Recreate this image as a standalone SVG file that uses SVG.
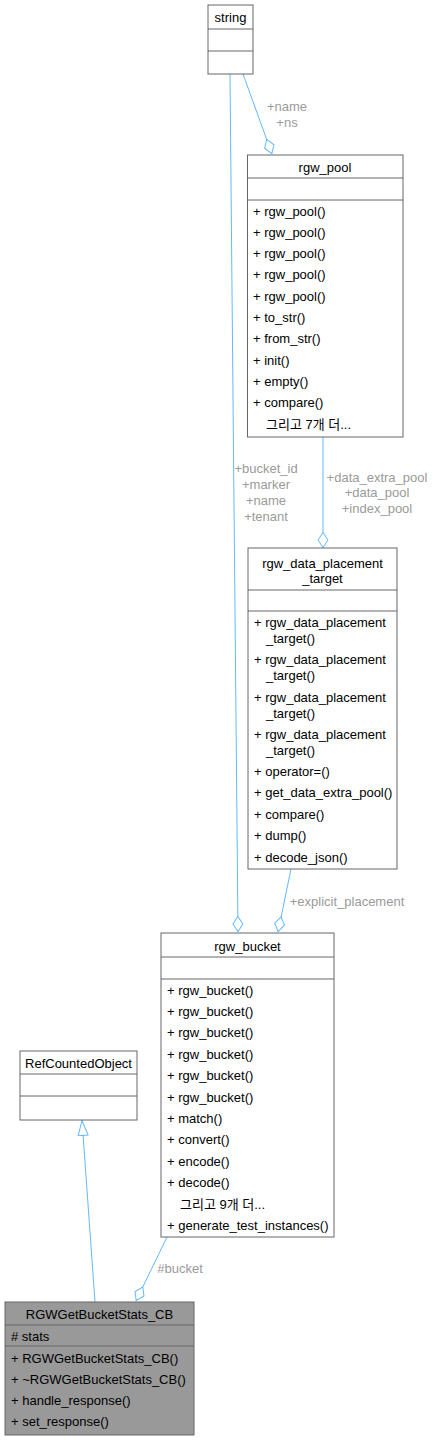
<svg xmlns="http://www.w3.org/2000/svg" width="433" height="1440" viewBox="0 0 433 1440">
<style>
text{font-family:"Liberation Sans","Noto Sans CJK KR",Arial,sans-serif;font-size:13px;fill:#000}
.c{text-anchor:middle}
.lbl{fill:#9a9a9a;text-anchor:middle}
.box{fill:#fff;stroke:#666;stroke-width:1}
.hl{fill:#999;stroke:#666;stroke-width:1}
.div{stroke:#666;stroke-width:1}
.e{fill:none;stroke:#63b8ff;stroke-width:1}
</style>
<defs>
<marker id="dia" viewBox="0 0 16 12" refX="16" refY="6" markerWidth="16" markerHeight="12" markerUnits="userSpaceOnUse" orient="auto">
<path d="M0.5,6 L8,1 L15.5,6 L8,11 Z" fill="#fff" stroke="#63b8ff" stroke-width="1"/>
</marker>
<marker id="tri" viewBox="0 0 16 12" refX="16" refY="6" markerWidth="16" markerHeight="12" markerUnits="userSpaceOnUse" orient="auto">
<path d="M0.5,1 L15.5,6 L0.5,11 Z" fill="#fff" stroke="#63b8ff" stroke-width="1"/>
</marker>
</defs>

<g id="connectors">
<path class="e" d="M243,74 L272,154" marker-end="url(#dia)"/>
<path class="e" d="M230,74 L238,932" marker-end="url(#dia)"/>
<path class="e" d="M323,437 L323,548" marker-end="url(#dia)"/>
<path class="e" d="M291,869 L278,932" marker-end="url(#dia)"/>
<path class="e" d="M167,1237 L136,1301" marker-end="url(#dia)"/>
<path class="e" d="M95,1302 L82,1120" marker-end="url(#tri)"/>
<text class="lbl" x="287" y="111">+name</text>
<text class="lbl" x="287" y="127">+ns</text>
<text class="lbl" x="266" y="473">+bucket_id</text>
<text class="lbl" x="266" y="489">+marker</text>
<text class="lbl" x="266" y="505">+name</text>
<text class="lbl" x="266" y="521">+tenant</text>
<text class="lbl" x="377" y="482">+data_extra_pool</text>
<text class="lbl" x="377" y="497">+data_pool</text>
<text class="lbl" x="377" y="513">+index_pool</text>
<text class="lbl" x="347" y="906">+explicit_placement</text>
<text class="lbl" x="180" y="1273">#bucket</text>
</g>

<g id="node-string">
<rect class="box" x="208" y="5" width="45" height="69"/>
<line class="div" x1="208" y1="29" x2="253" y2="29"/>
<line class="div" x1="208" y1="51" x2="253" y2="51"/>
<text class="c" x="230.5" y="22">string</text>
</g>

<g id="node-rgw_pool">
<rect class="box" x="247.5" y="155" width="155.5" height="282"/>
<line class="div" x1="247.5" y1="178" x2="403" y2="178"/>
<line class="div" x1="247.5" y1="200" x2="403" y2="200"/>
<text class="c" x="325" y="171.5">rgw_pool</text>
<text x="253" y="215.5">+ rgw_pool()</text>
<text x="253" y="236.8">+ rgw_pool()</text>
<text x="253" y="258.1">+ rgw_pool()</text>
<text x="253" y="279.4">+ rgw_pool()</text>
<text x="253" y="300.7">+ rgw_pool()</text>
<text x="253" y="322">+ to_str()</text>
<text x="253" y="343.3">+ from_str()</text>
<text x="253" y="364.6">+ init()</text>
<text x="253" y="385.9">+ empty()</text>
<text x="253" y="407.2">+ compare()</text>
<text x="266" y="428.5">그리고 7개 더...</text>
</g>

<g id="node-rgw_data_placement_target">
<rect class="box" x="248" y="548" width="149" height="321"/>
<line class="div" x1="248" y1="590" x2="397" y2="590"/>
<line class="div" x1="248" y1="611" x2="397" y2="611"/>
<text class="c" x="322.5" y="567.5">rgw_data_placement</text>
<text class="c" x="322.5" y="582.5">_target</text>
<text x="254" y="626.5">+ rgw_data_placement</text>
<text x="266" y="642.5">_target()</text>
<text x="254" y="663.5">+ rgw_data_placement</text>
<text x="266" y="679.5">_target()</text>
<text x="254" y="701.5">+ rgw_data_placement</text>
<text x="266" y="717.5">_target()</text>
<text x="254" y="738.5">+ rgw_data_placement</text>
<text x="266" y="754.5">_target()</text>
<text x="254" y="775.5">+ operator=()</text>
<text x="254" y="796.5">+ get_data_extra_pool()</text>
<text x="254" y="818.5">+ compare()</text>
<text x="254" y="839.5">+ dump()</text>
<text x="254" y="861.5">+ decode_json()</text>
</g>

<g id="node-rgw_bucket">
<rect class="box" x="161" y="933" width="173" height="304"/>
<line class="div" x1="161" y1="957" x2="334" y2="957"/>
<line class="div" x1="161" y1="979" x2="334" y2="979"/>
<text class="c" x="247.5" y="950.5">rgw_bucket</text>
<text x="167" y="994.5">+ rgw_bucket()</text>
<text x="167" y="1015.9">+ rgw_bucket()</text>
<text x="167" y="1037.3">+ rgw_bucket()</text>
<text x="167" y="1058.7">+ rgw_bucket()</text>
<text x="167" y="1080.1">+ rgw_bucket()</text>
<text x="167" y="1101.5">+ rgw_bucket()</text>
<text x="167" y="1122.9">+ match()</text>
<text x="167" y="1144.3">+ convert()</text>
<text x="167" y="1165.7">+ encode()</text>
<text x="167" y="1187.1">+ decode()</text>
<text x="180" y="1208.5">그리고 9개 더...</text>
<text x="167" y="1229.9">+ generate_test_instances()</text>
</g>

<g id="node-RefCountedObject">
<rect class="box" x="20" y="1051" width="117" height="69"/>
<line class="div" x1="20" y1="1074" x2="137" y2="1074"/>
<line class="div" x1="20" y1="1096" x2="137" y2="1096"/>
<text class="c" x="78.5" y="1068">RefCountedObject</text>
</g>

<g id="node-RGWGetBucketStats_CB">
<rect class="hl" x="5" y="1302" width="189" height="133"/>
<line class="div" x1="5" y1="1325" x2="194" y2="1325"/>
<line class="div" x1="5" y1="1346" x2="194" y2="1346"/>
<text class="c" x="99.5" y="1318.5">RGWGetBucketStats_CB</text>
<text x="11" y="1340.5"># stats</text>
<text x="11" y="1362.5">+ RGWGetBucketStats_CB()</text>
<text x="11" y="1383.5">+ ~RGWGetBucketStats_CB()</text>
<text x="11" y="1404.5">+ handle_response()</text>
<text x="11" y="1425.5">+ set_response()</text>
</g>
</svg>
